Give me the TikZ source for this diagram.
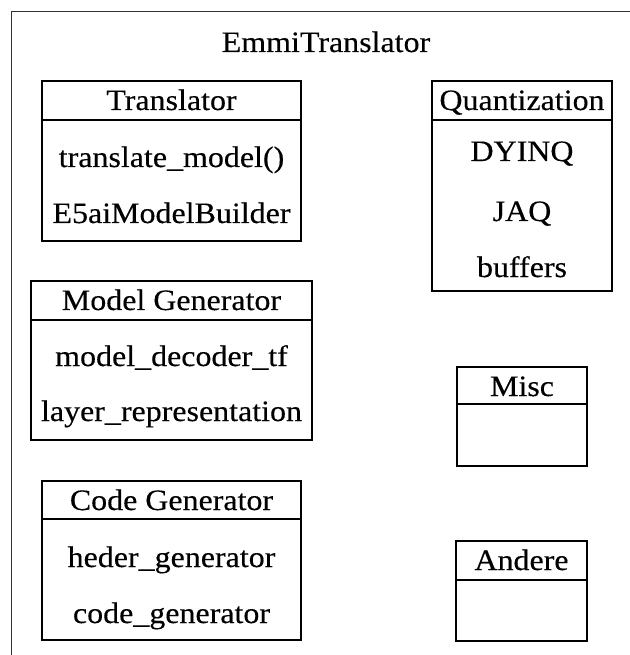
\documentclass[tikz,border=0pt]{standalone}
\usepackage{fontspec}
\setmainfont{Liberation Serif}[FakeStretch=1.08, FakeBold=0.3]
\usetikzlibrary{fit}
\begin{document}
\begin{tikzpicture}[x=0.75pt,y=-0.75pt,
  lbl/.style={font=\fontsize{22.2}{26}\selectfont, inner sep=0pt, anchor=base},
  classbox/.style={draw=black, line width=1.2pt, inner sep=0pt},
  divider/.style={draw=black, line width=1.2pt},
  frameline/.style={draw=black!80, line width=1.3pt}]
\useasboundingbox (0,0) rectangle (629,655);
% outer frame (cropped at right and bottom)
\coordinate (f-sw) at (11.5,660);
\coordinate (f-nw) at (11.5,11.5);
\coordinate (f-ne) at (640,11.5);
\draw[frameline] (f-sw) -- (f-nw) -- (f-ne);
\node[lbl] (title) at (326,52) {EmmiTranslator};

% Translator
\coordinate (tr-a) at (42,81); \coordinate (tr-b) at (301,241);
\node[classbox, fit=(tr-a)(tr-b)] (tr) {};
\draw[divider] ([yshift=-30pt]tr.north west) -- ([yshift=-30pt]tr.north east);
\node[lbl] (tr-h) at (171.5,110) {Translator};
\node[lbl] (tr-1) at (171.5,167) {translate\_model()};
\node[lbl] (tr-2) at (171.5,223) {E5aiModelBuilder};

% Model Generator
\coordinate (mg-a) at (31,281); \coordinate (mg-b) at (312,440);
\node[classbox, fit=(mg-a)(mg-b)] (mg) {};
\draw[divider] ([yshift=-30pt]mg.north west) -- ([yshift=-30pt]mg.north east);
\node[lbl] (mg-h) at (171.5,310) {Model Generator};
\node[lbl] (mg-1) at (171.5,366) {model\_decoder\_tf};
\node[lbl] (mg-2) at (171.5,421) {layer\_representation};

% Code Generator
\coordinate (cg-a) at (42,481); \coordinate (cg-b) at (301,640);
\node[classbox, fit=(cg-a)(cg-b)] (cg) {};
\draw[divider] ([yshift=-29.25pt]cg.north west) -- ([yshift=-29.25pt]cg.north east);
\node[lbl] (cg-h) at (171.5,510) {Code Generator};
\node[lbl] (cg-1) at (171.5,567) {heder\_generator};
\node[lbl] (cg-2) at (171.5,623) {code\_generator};

% Quantization
\coordinate (qu-a) at (432,81); \coordinate (qu-b) at (612,291);
\node[classbox, fit=(qu-a)(qu-b)] (qu) {};
\draw[divider] ([yshift=-30pt]qu.north west) -- ([yshift=-30pt]qu.north east);
\node[lbl] (qu-h) at (522,110) {Quantization};
\node[lbl] (qu-1) at (522,161) {DYINQ};
\node[lbl] (qu-2) at (522,221) {JAQ};
\node[lbl] (qu-3) at (522,277) {buffers};

% Misc
\coordinate (mi-a) at (457,367); \coordinate (mi-b) at (587,466);
\node[classbox, fit=(mi-a)(mi-b)] (mi) {};
\draw[divider] ([yshift=-28.5pt]mi.north west) -- ([yshift=-28.5pt]mi.north east);
\node[lbl] (mi-h) at (522,396) {Misc};

% Andere
\coordinate (an-a) at (456,541); \coordinate (an-b) at (587,641);
\node[classbox, fit=(an-a)(an-b)] (an) {};
\draw[divider] ([yshift=-30pt]an.north west) -- ([yshift=-30pt]an.north east);
\node[lbl] (an-h) at (521.5,570) {Andere};
\end{tikzpicture}
\end{document}
